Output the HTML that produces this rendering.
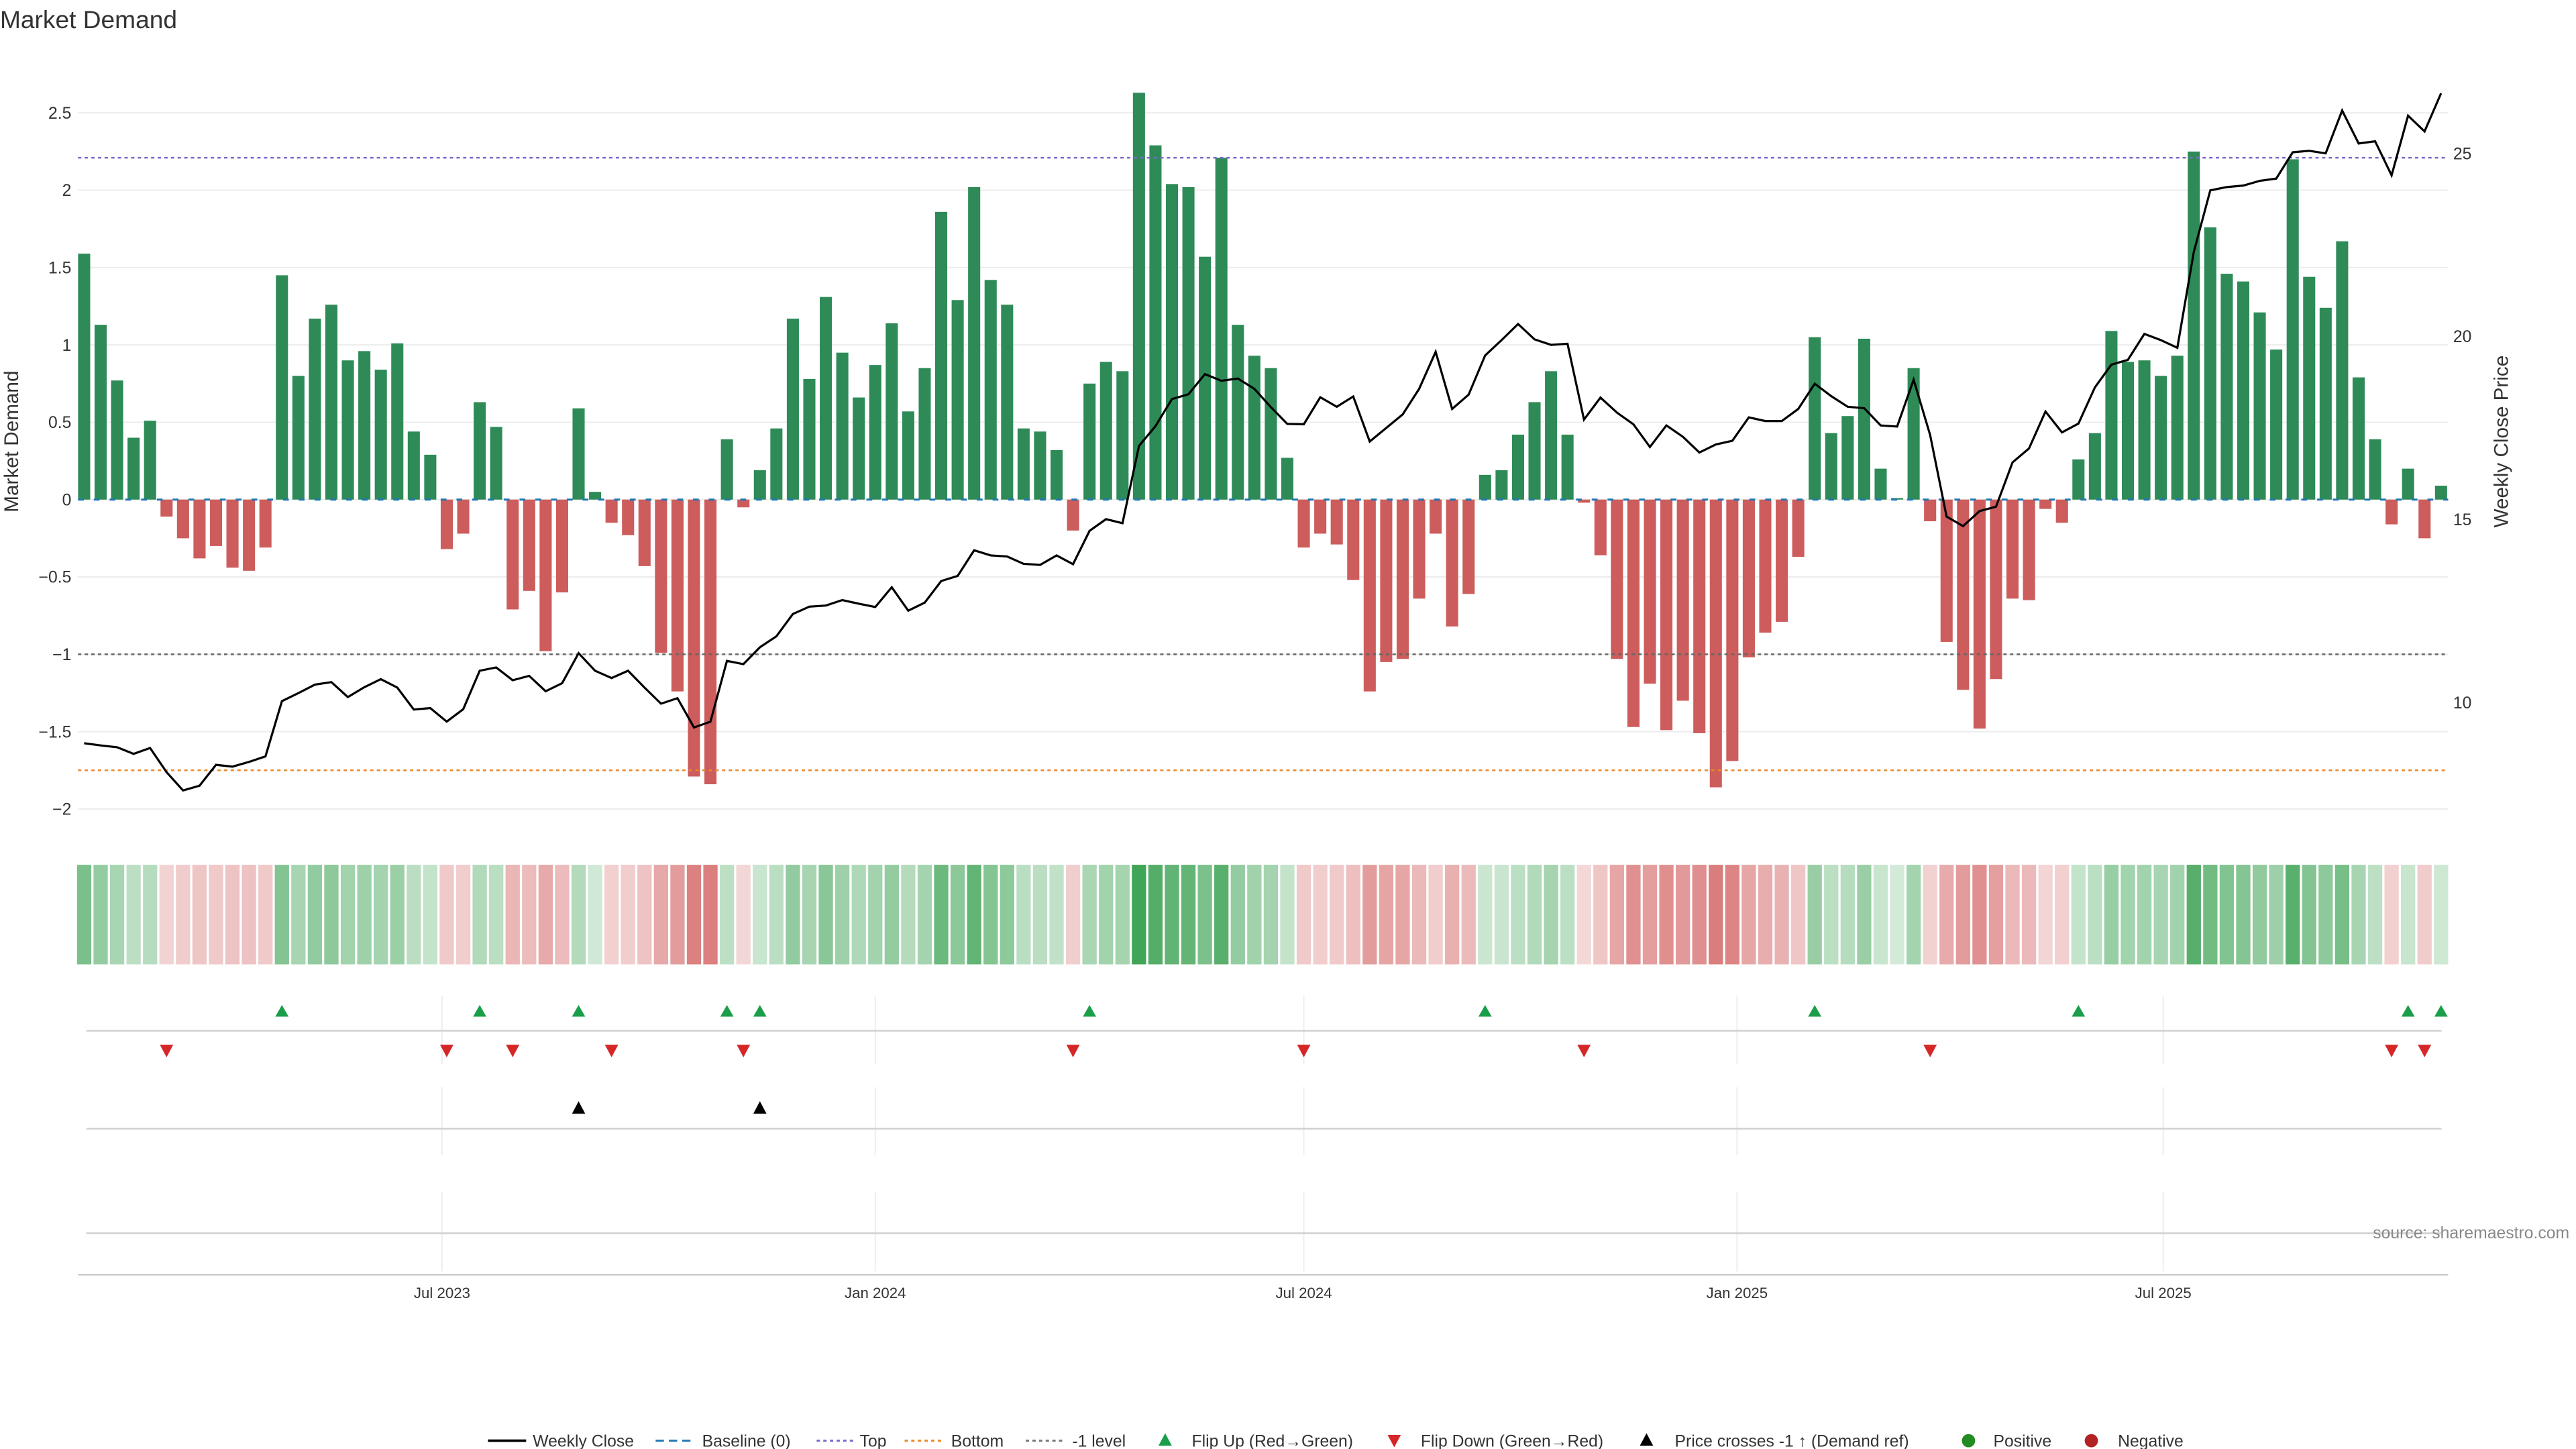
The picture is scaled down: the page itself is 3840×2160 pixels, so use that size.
<!DOCTYPE html>
<html><head><meta charset="utf-8"><title>Market Demand</title>
<style>
html,body{margin:0;padding:0;background:#fff;}
svg{display:block;font-family:"Liberation Sans","DejaVu Sans",sans-serif;}
</style></head>
<body>
<svg id="chart" width="3840" height="2160" viewBox="0 0 1552 873" preserveAspectRatio="none" xmlns="http://www.w3.org/2000/svg">
  <text x="0" y="17" font-size="15" fill="#333">Market Demand</text>
  <g id="grid"></g>
  <g id="heat"></g>
  <g id="bars"></g>
  <g id="refs"></g>
  <g id="price"></g>
  <g id="markers"></g>
  <g id="axes"></g>
  <text x="1548" y="746" font-size="10" fill="#888" text-anchor="end">source: sharemaestro.com</text>
  <g id="legend" font-size="10" fill="#333">
    <g><line x1="294" y1="868" x2="317" y2="868" stroke="#000" stroke-width="1.5"/><text x="321" y="871.5">Weekly Close</text></g>
    <g><line x1="395" y1="868" x2="418" y2="868" stroke="#1f77b4" stroke-width="1.2" stroke-dasharray="5,3"/><text x="423" y="871.5">Baseline (0)</text></g>
    <g><line x1="492" y1="868" x2="514" y2="868" stroke="#7b68c8" stroke-width="1.2" stroke-dasharray="2,2"/><text x="518" y="871.5">Top</text></g>
    <g><line x1="545" y1="868" x2="568" y2="868" stroke="#e8892b" stroke-width="1.2" stroke-dasharray="2,2"/><text x="573" y="871.5">Bottom</text></g>
    <g><line x1="618" y1="868" x2="640" y2="868" stroke="#777" stroke-width="1.2" stroke-dasharray="2,2"/><text x="646" y="871.5">-1 level</text></g>
    <g><polygon points="702,863.5 698,871 706,871" fill="#1a9e4a"/><text x="718" y="871.5">Flip Up (Red→Green)</text></g>
    <g><polygon points="840,872 836,864.5 844,864.5" fill="#d62728"/><text x="856" y="871.5">Flip Down (Green→Red)</text></g>
    <g><polygon points="992,863.5 988,871 996,871" fill="#000"/><text x="1009" y="871.5">Price crosses -1 ↑ (Demand ref)</text></g>
    <g><circle cx="1186" cy="868" r="4" fill="#228b22"/><text x="1201" y="871.5">Positive</text></g>
    <g><circle cx="1260" cy="868" r="4" fill="#b22222"/><text x="1276" y="871.5">Negative</text></g>
  </g>
</svg>
<script>
const demand = [1.59,1.13,0.77,0.40,0.51,-0.11,-0.25,-0.38,-0.30,-0.44,-0.46,-0.31,1.45,0.80,1.17,1.26,0.90,0.96,0.84,1.01,0.44,0.29,-0.32,-0.22,0.63,0.47,-0.71,-0.59,-0.98,-0.60,0.59,0.05,-0.15,-0.23,-0.43,-0.99,-1.24,-1.79,-1.84,0.39,-0.05,0.19,0.46,1.17,0.78,1.31,0.95,0.66,0.87,1.14,0.57,0.85,1.86,1.29,2.02,1.42,1.26,0.46,0.44,0.32,-0.20,0.75,0.89,0.83,2.63,2.29,2.04,2.02,1.57,2.21,1.13,0.93,0.85,0.27,-0.31,-0.22,-0.29,-0.52,-1.24,-1.05,-1.03,-0.64,-0.22,-0.82,-0.61,0.16,0.19,0.42,0.63,0.83,0.42,-0.02,-0.36,-1.03,-1.47,-1.19,-1.49,-1.30,-1.51,-1.86,-1.69,-1.02,-0.86,-0.79,-0.37,1.05,0.43,0.54,1.04,0.20,0.01,0.85,-0.14,-0.92,-1.23,-1.48,-1.16,-0.64,-0.65,-0.06,-0.15,0.26,0.43,1.09,0.89,0.90,0.80,0.93,2.25,1.76,1.46,1.41,1.21,0.97,2.20,1.44,1.24,1.67,0.79,0.39,-0.16,0.20,-0.25,0.09];
const closePrice = [8.89,8.83,8.78,8.60,8.76,8.10,7.60,7.73,8.30,8.25,8.38,8.53,10.04,10.26,10.49,10.56,10.15,10.42,10.64,10.41,9.81,9.85,9.48,9.82,10.87,10.96,10.61,10.73,10.31,10.53,11.35,10.87,10.67,10.87,10.41,9.97,10.12,9.32,9.48,11.14,11.05,11.51,11.81,12.42,12.62,12.65,12.80,12.70,12.61,13.15,12.51,12.73,13.32,13.46,14.16,14.02,13.99,13.79,13.76,14.02,13.78,14.69,15.01,14.90,17.01,17.55,18.29,18.42,18.97,18.79,18.85,18.57,18.07,17.61,17.60,18.34,18.08,18.36,17.13,17.50,17.87,18.57,19.58,18.02,18.41,19.48,19.90,20.34,19.92,19.77,19.80,17.73,18.33,17.92,17.60,16.98,17.57,17.26,16.83,17.05,17.15,17.79,17.69,17.69,18.02,18.71,18.37,18.08,18.04,17.57,17.54,18.82,17.31,15.08,14.82,15.23,15.35,16.56,16.94,17.95,17.38,17.62,18.61,19.23,19.36,20.07,19.90,19.69,22.31,23.99,24.08,24.12,24.25,24.31,25.03,25.07,25.00,26.17,25.27,25.33,24.40,26.03,25.60,26.64];
const leftTicks = [2.5,2,1.5,1,0.5,0,-0.5,-1,-1.5,-2];
const leftTickLabels = ["2.5","2","1.5","1","0.5","0","−0.5","−1","−1.5","−2"];
const rightTicks = [10,15,20,25];
const dateTicks = ["2023-07-01","2024-01-01","2024-07-01","2025-01-01","2025-07-01"];
const dateTickLabels = ["Jul 2023","Jan 2024","Jul 2024","Jan 2025","Jul 2025"];
const firstWeek = "2023-01-30";
const topLevel = 2.21, bottomLevel = -1.75, minusOneLevel = -1;

const NS = "http://www.w3.org/2000/svg";
const d0 = Date.parse(firstWeek);
const xDate = t => 50.7 + (t - d0) / (7 * 864e5) * 9.93;
const xIdx = i => xDate(d0 + i * 7 * 864e5);
const yL = v => 301 - v * 93.2;
const yR = p => 313 - (p - 15) * 22.06;
function mk(tag, attrs, parent) {
  const e = document.createElementNS(NS, tag);
  for (const k in attrs) e.setAttribute(k, attrs[k]);
  parent.appendChild(e);
  return e;
}
const G = id => document.getElementById(id);

// horizontal gridlines + left tick labels
leftTicks.forEach((v, i) => {
  const l = mk("line", {x1: 47, x2: 1475, y1: yL(v), y2: yL(v), stroke: "#ececec", "stroke-width": 0.8}, G("grid"));
  
  
  const t = mk("text", {x: 43, y: yL(v) + 3.5, "font-size": 10, fill: "#333", "text-anchor": "end"}, G("axes"));
  t.textContent = leftTickLabels[i];
  
  
});
rightTicks.forEach(p => {
  const t = mk("text", {x: 1478, y: yR(p) + 3.5, "font-size": 10, fill: "#333"}, G("axes"));
  t.textContent = String(p);
  
  
});
// axis titles
let t1 = mk("text", {x: 0, y: 0, "font-size": 12, fill: "#333", "text-anchor": "middle", transform: "translate(11,266) rotate(-90)"}, G("axes"));
t1.textContent = "Market Demand";


let t2 = mk("text", {x: 0, y: 0, "font-size": 12, fill: "#333", "text-anchor": "middle", transform: "translate(1511,266) rotate(-90)"}, G("axes"));
t2.textContent = "Weekly Close Price";



// x axis
let ax = mk("line", {x1: 47, x2: 1475, y1: 768, y2: 768, stroke: "#ccc", "stroke-width": 1}, G("axes"));


dateTicks.forEach((d, i) => {
  const x = xDate(Date.parse(d));
  [[600, 641], [655, 696], [718, 766]].forEach(r => {
    const g = mk("line", {x1: x, x2: x, y1: r[0], y2: r[1], stroke: "#eeeeee", "stroke-width": 0.8}, G("grid"));
    
    
  });
  const t = mk("text", {x: x, y: 782, "font-size": 9, fill: "#333", "text-anchor": "middle"}, G("axes"));
  t.textContent = dateTickLabels[i];
  
  
});
// panel lines
[621, 680, 743].forEach(y => {
  const l = mk("line", {x1: 52, x2: 1471, y1: y, y2: y, stroke: "#d0d0d0", "stroke-width": 1}, G("grid"));
  
  
});

// bars + heatmap
demand.forEach((v, i) => {
  const x = xIdx(i);
  const pos = v >= 0;
  const b = mk("rect", {x: x - 3.65, width: 7.3, y: Math.min(yL(v), yL(0)), height: Math.abs(yL(v) - yL(0)), fill: pos ? "#2e8b57" : "#cd5c5c"}, G("bars"));
  
  
  const a = Math.min(0.2 + 0.25 * Math.abs(v), 0.9);
  const c = mk("rect", {x: x - 4.3, width: 8.6, y: 521, height: 60, fill: pos ? "rgb(34,150,60)" : "rgb(200,60,60)", "fill-opacity": a}, G("heat"));
  
  
});

// reference lines
const refDefs = [[0, "#1f77b4", "3.5,6", 1.2, 'baseline-zero'], [topLevel, "#7b68c8", "2,2", 1, 'top-line'], [bottomLevel, "#e8892b", "2,2", 1, 'bottom-line'], [minusOneLevel, "#666", "2,2", 1, 'minus-one-line']];
refDefs.forEach(r => {
  const l = mk("line", {x1: 47, x2: 1475, y1: yL(r[0]), y2: yL(r[0]), stroke: r[1], "stroke-dasharray": r[2], "stroke-width": r[3]}, G("refs"));
  
  
});

// price line
const pts = closePrice.map((p, i) => xIdx(i).toFixed(2) + "," + yR(p).toFixed(2)).join(" ");
const pl = mk("polyline", {points: pts, fill: "none", stroke: "#000", "stroke-width": 1.3, "stroke-linejoin": "miter"}, G("price"));



// markers
const crossPrice = 15 + (313 - yL(minusOneLevel)) / 22.06;
for (let i = 1; i < demand.length; i++) {
  const x = xIdx(i);
  if (demand[i - 1] < 0 && demand[i] >= 0) {
    const m = mk("polygon", {points: `${x},605.5 ${x - 4},612.5 ${x + 4},612.5`, fill: "#1a9e4a"}, G("markers"));
    
    
  }
  if (demand[i - 1] >= 0 && demand[i] < 0) {
    const m = mk("polygon", {points: `${x},637 ${x - 4},629.5 ${x + 4},629.5`, fill: "#d62728"}, G("markers"));
    
    
  }
  if (closePrice[i - 1] < crossPrice && closePrice[i] >= crossPrice) {
    const m = mk("polygon", {points: `${x},663.5 ${x - 4},671 ${x + 4},671`, fill: "#000"}, G("markers"));
    
    
  }
}
</script>
</body></html>
